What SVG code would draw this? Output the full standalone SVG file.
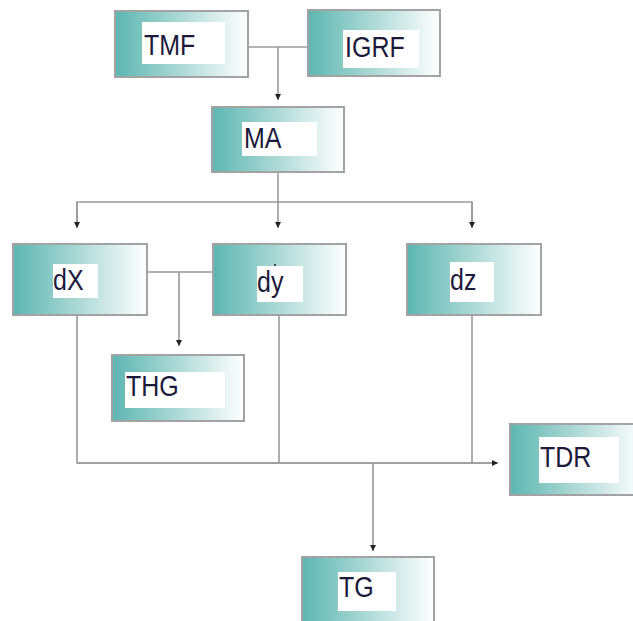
<svg xmlns="http://www.w3.org/2000/svg" width="633" height="621" viewBox="0 0 633 621">
<defs>
<linearGradient id="g" x1="0" y1="0" x2="1" y2="0">
<stop offset="0" stop-color="#5db6b1"/>
<stop offset="0.45" stop-color="#a6d6d3"/>
<stop offset="1" stop-color="#ffffff"/>
</linearGradient>
<marker id="ah" viewBox="0 0 10 10" refX="10" refY="5" markerWidth="6" markerHeight="6" markerUnits="userSpaceOnUse" orient="auto">
<path d="M0,0 L10,5 L0,10 z" fill="#222"/>
</marker>
</defs>
<style>
.box{fill:url(#g);stroke:#a3a3a3;stroke-width:2}
.lbl{fill:#fff}
.t{font-family:"Liberation Sans",Arial,sans-serif;font-size:25px;fill:#1c1a3a}
.c{fill:none;stroke:#9a9a9a;stroke-width:1.6}
.a{marker-end:url(#ah)}
</style>
<rect width="633" height="621" fill="#fff"/>
<g id="connectors">
<path class="c" d="M248,47 H308"/>
<path class="c a" d="M278,47 V100"/>
<path class="c" d="M278,172 V202"/>
<path class="c" d="M77,227 V202 H472 V227"/>
<path class="c a" d="M77,202 V228"/>
<path class="c a" d="M278,202 V228"/>
<path class="c a" d="M472,202 V228"/>
<path class="c" d="M147,272 H213"/>
<path class="c a" d="M179,272 V346"/>
<path class="c" d="M77,315 V463 H497"/>
<path class="c a" d="M77,463 H498"/>
<path class="c" d="M279,315 V463"/>
<path class="c" d="M472,315 V463"/>
<path class="c a" d="M373,463 V551"/>
</g>
<g id="TMF"><rect class="box" x="115" y="11" width="133" height="66"/><rect class="lbl" x="142" y="22" width="83" height="42"/><text class="t" transform="translate(144,55) scale(1,1.15)">TMF</text></g>
<g id="IGRF"><rect class="box" x="308" y="10" width="132" height="66"/><rect class="lbl" x="343" y="30" width="76" height="38"/><text class="t" transform="translate(345,57) scale(1,1.15)">IGRF</text></g>
<g id="MA"><rect class="box" x="212" y="107" width="132" height="65"/><rect class="lbl" x="242" y="122" width="75" height="34"/><text class="t" transform="translate(244,148) scale(1,1.15)">MA</text></g>
<g id="dX"><rect class="box" x="13" y="244" width="134" height="71"/><rect class="lbl" x="53" y="264" width="45" height="34"/><text class="t" transform="translate(53,290) scale(1,1.15)">dX</text></g>
<g id="dy"><rect class="box" x="213" y="244" width="133" height="71"/><rect class="lbl" x="257" y="266" width="46" height="36"/><text class="t" transform="translate(257,292) scale(1,1.15)">dy</text><circle cx="275" cy="265" r="1" fill="#222"/></g>
<g id="dz"><rect class="box" x="407" y="244" width="134" height="71"/><rect class="lbl" x="450" y="262" width="44" height="40"/><text class="t" transform="translate(450,290) scale(1,1.15)">dz</text></g>
<g id="THG"><rect class="box" x="112" y="355" width="132" height="66"/><rect class="lbl" x="125" y="372" width="100" height="36"/><text class="t" transform="translate(126,396) scale(1,1.15)">THG</text></g>
<g id="TDR"><rect class="box" x="510" y="424" width="133" height="71"/><rect class="lbl" x="539" y="437" width="80" height="46"/><text class="t" transform="translate(540,467) scale(1,1.15)">TDR</text></g>
<g id="TG"><rect class="box" x="302" y="557" width="132" height="80"/><rect class="lbl" x="338" y="572" width="58" height="39"/><text class="t" transform="translate(339,597) scale(1,1.15)">TG</text></g>
</svg>
